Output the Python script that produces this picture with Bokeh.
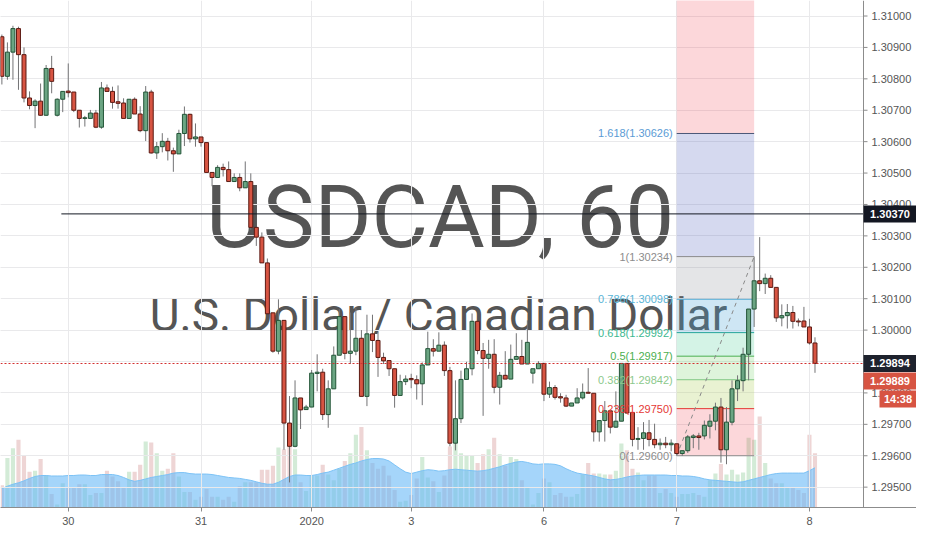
from bokeh.plotting import figure
from bokeh.models import Range1d, FixedTicker, Label
from bokeh.embed import file_html
from bokeh.resources import INLINE
from bokeh.core.properties import value

# ---------------- data (USDCAD, 60 min) ----------------
opens = [1.30934,1.30808,1.30885,1.30960,1.30877,1.30739,1.30715,1.30729,1.30684,1.30833,
         1.30684,1.30735,1.30761,1.30758,1.30700,1.30674,1.30674,1.30691,1.30646,1.30771,
         1.30760,1.30727,1.30723,1.30674,1.30735,1.30688,1.30635,1.30758,1.30564,1.30584,
         1.30601,1.30571,1.30561,1.30626,1.30687,1.30609,1.30615,1.30597,1.30502,1.30486,
         1.30518,1.30511,1.30473,1.30486,1.30453,1.30473,1.30327,1.30296,1.30214,1.30055,
         1.29933,1.30031,1.29704,1.29630,1.29784,1.29747,1.29755,1.29862,1.29866,1.29731,
         1.29813,1.29920,1.30043,1.29926,1.29933,1.29974,1.29789,1.29988,1.29967,1.29913,
         1.29903,1.29877,1.29792,1.29836,1.29846,1.29842,1.29829,1.29889,1.29941,1.29933,
         1.29952,1.29871,1.29640,1.29718,1.29843,1.29877,1.30028,1.29935,1.29910,1.29923,
         1.29818,1.29856,1.29844,1.29907,1.29916,1.29892,1.29863,1.29877,1.29894,1.29796,
         1.29817,1.29788,1.29784,1.29758,1.29768,1.29784,1.29802,1.29799,1.29676,1.29712,
         1.29743,1.29691,1.29710,1.29894,1.29738,1.29652,1.29655,1.29673,1.29652,1.29635,
         1.29640,1.29635,1.29638,1.29607,1.29616,1.29658,1.29663,1.29663,1.29694,1.29710,
         1.29755,1.29619,1.29707,1.29813,1.29839,1.29923,1.30067,1.30157,1.30148,1.30165,
         1.30136,1.30039,1.30046,1.30056,1.30029,1.30029,1.30010,1.29959]
highs = [1.30941,1.30916,1.30969,1.30966,1.30900,1.30760,1.30735,1.30785,1.30844,1.30873,
         1.30738,1.30760,1.30849,1.30758,1.30700,1.30682,1.30701,1.30701,1.30790,1.30782,
         1.30775,1.30779,1.30738,1.30735,1.30741,1.30713,1.30777,1.30765,1.30599,1.30627,
         1.30612,1.30581,1.30638,1.30712,1.30689,1.30658,1.30615,1.30597,1.30502,1.30525,
         1.30530,1.30537,1.30499,1.30499,1.30537,1.30499,1.30327,1.30311,1.30228,1.30055,
         1.30098,1.30031,1.29790,1.29840,1.29784,1.29762,1.29873,1.29923,1.29877,1.29840,
         1.29948,1.30067,1.30043,1.30056,1.30072,1.30000,1.30049,1.30049,1.29995,1.29928,
         1.29903,1.29877,1.29858,1.29856,1.29861,1.29856,1.29897,1.29995,1.29971,1.29993,
         1.29964,1.29883,1.29840,1.29871,1.29899,1.30053,1.30028,1.29959,1.29969,1.29971,
         1.29867,1.29933,1.29954,1.29990,1.29969,1.30031,1.29877,1.29901,1.29894,1.29836,
         1.29825,1.29799,1.29794,1.29768,1.29815,1.29830,1.29879,1.29799,1.29712,1.29774,
         1.29743,1.29805,1.29894,1.29894,1.29738,1.29691,1.29707,1.29714,1.29702,1.29655,
         1.29660,1.29652,1.29638,1.29616,1.29666,1.29669,1.29673,1.29712,1.29732,1.29769,
         1.29784,1.29755,1.29840,1.29856,1.29944,1.30067,1.30234,1.30296,1.30180,1.30175,
         1.30136,1.30082,1.30083,1.30077,1.30037,1.30074,1.30036,1.29977]
lows = [1.30782,1.30797,1.30797,1.30765,1.30725,1.30703,1.30643,1.30682,1.30682,1.30754,
        1.30680,1.30694,1.30741,1.30694,1.30645,1.30648,1.30674,1.30643,1.30641,1.30760,
        1.30705,1.30705,1.30674,1.30674,1.30688,1.30630,1.30602,1.30562,1.30545,1.30566,
        1.30540,1.30504,1.30561,1.30586,1.30597,1.30584,1.30584,1.30502,1.30458,1.30486,
        1.30489,1.30473,1.30473,1.30442,1.30453,1.30319,1.30268,1.30214,1.30052,1.29928,
        1.29923,1.29619,1.29515,1.29627,1.29685,1.29747,1.29755,1.29805,1.29714,1.29689,
        1.29813,1.29920,1.29907,1.29892,1.29920,1.29789,1.29758,1.29930,1.29851,1.29892,
        1.29854,1.29753,1.29792,1.29825,1.29815,1.29779,1.29761,1.29889,1.29916,1.29933,
        1.29854,1.29630,1.29617,1.29704,1.29843,1.29856,1.29923,1.29727,1.29877,1.29799,
        1.29763,1.29844,1.29844,1.29907,1.29892,1.29892,1.29830,1.29877,1.29774,1.29784,
        1.29779,1.29769,1.29755,1.29758,1.29768,1.29779,1.29799,1.29645,1.29645,1.29645,
        1.29671,1.29689,1.29710,1.29735,1.29630,1.29619,1.29619,1.29630,1.29624,1.29619,
        1.29624,1.29614,1.29601,1.29600,1.29609,1.29624,1.29619,1.29652,1.29655,1.29681,
        1.29578,1.29573,1.29697,1.29774,1.29805,1.29840,1.30010,1.30124,1.30115,1.30136,
        1.30026,1.30012,1.30005,1.30005,1.30012,1.30010,1.29954,1.29864]
closes = [1.30808,1.30885,1.30960,1.30877,1.30739,1.30715,1.30729,1.30684,1.30833,1.30792,
          1.30735,1.30760,1.30756,1.30700,1.30674,1.30676,1.30691,1.30646,1.30771,1.30760,
          1.30725,1.30722,1.30674,1.30735,1.30688,1.30635,1.30758,1.30564,1.30584,1.30601,
          1.30571,1.30561,1.30626,1.30687,1.30609,1.30615,1.30597,1.30502,1.30486,1.30518,
          1.30511,1.30473,1.30486,1.30453,1.30473,1.30327,1.30296,1.30214,1.30052,1.29933,
          1.30031,1.29704,1.29630,1.29784,1.29746,1.29755,1.29863,1.29866,1.29731,1.29813,
          1.29920,1.30043,1.29926,1.29933,1.29974,1.29789,1.29988,1.29967,1.29913,1.29902,
          1.29877,1.29792,1.29836,1.29844,1.29842,1.29829,1.29889,1.29941,1.29933,1.29952,
          1.29871,1.29640,1.29718,1.29843,1.29877,1.30028,1.29935,1.29910,1.29923,1.29818,
          1.29856,1.29844,1.29907,1.29916,1.29892,1.29961,1.29877,1.29894,1.29796,1.29817,
          1.29786,1.29784,1.29758,1.29768,1.29784,1.29802,1.29799,1.29676,1.29712,1.29743,
          1.29691,1.29710,1.29894,1.29736,1.29652,1.29655,1.29673,1.29652,1.29635,1.29640,
          1.29635,1.29640,1.29607,1.29616,1.29660,1.29663,1.29658,1.29697,1.29710,1.29755,
          1.29619,1.29707,1.29813,1.29839,1.29923,1.30067,1.30157,1.30148,1.30165,1.30136,
          1.30039,1.30046,1.30056,1.30028,1.30026,1.30010,1.29959,1.29894]
volume = [23,51,61,70,54,37,38,50,33,14, 3,25,20,21,24,24,13,15,15,38,
          32,27,21,37,37,44,68,67,56,38, 40,56,32,16,16,8,11,19,11,11,
          8,11,6,22,26,26,26,39,39,43, 62,60,70,60,26,17,33,33,44,34,
          28,40,48,56,75,83,59,46,40,43, 33,18,6,7,13,30,52,31,27,16,
          33,63,66,56,54,54,46,55,60,72, 55,43,52,50,28,21,3,15,30,26,
          13,15,11,11,14,34,46,35,35,34, 34,38,66,59,40,36,28,33,33,15,
          19,15,11,14,14,15,13,11,28,35, 45,34,39,34,36,72,70,94,46,30,
          25,25,20,20,18,15,75,56]
volume_ma = [19.5,22,24,25.5,27.5,30,32,33,33,32.5, 32.5,32.5,33,33,33.5,33.5,33,33,34,34,
             34,33,31,28.5,27,28,29.5,31,32,33, 34,35.5,36,36,35,34.5,34.5,34.5,34,33,
             32,31,30.5,30,29,28,26.5,25,24,24, 26,29,32,33.5,33.5,33,33,34,35.5,36.5,
             38.5,40.5,42.5,44.5,46,48,49.5,50.5,50.5,50, 48,44,40,36.5,35,36.5,38,39,38.5,37.5,
             38,39,39.5,39,38.5,38,37.5,38,39,40.5, 42,44,45.5,47,47.5,46.5,45,44.5,45,45,
             44.5,43,40,37.5,35.5,34.5,33.5,32.5,31,29.5, 28.5,29,30,31.5,32.5,33,33.5,33.5,33.5,33.5,
             33.5,33,33,32.5,32.5,32,31,29.5,28.5,28, 27.5,27,26.5,26,26.5,28,29.5,31,32.5,34,
             35,35.5,35.5,35.5,35.5,35.5,38,41]

date_tick_bars = [12, 36, 56, 74, 98, 122, 146]
date_tick_labels = ["30", "31", "2020", "3", "6", "7", "8"]
price_ticks = [1.295, 1.296, 1.297, 1.298, 1.299, 1.300, 1.301, 1.302,
               1.303, 1.304, 1.305, 1.306, 1.307, 1.308, 1.309, 1.310]

fib_level_labels = ["0", "0.236", "0.382", "0.5", "0.618", "0.786", "1", "1.618", "2.618"]
fib_prices = [1.29600, 1.29750, 1.29842, 1.29917, 1.29992, 1.30098, 1.30234, 1.30626, 1.31260]
fib_start_bar = 122
fib_end_bar = 136

resistance_price = 1.30370
resistance_start_bar = 10.75
last_price = 1.29894
bid_price = 1.29889
countdown = "14:38"
symbol_title = "USDCAD, 60"
symbol_desc = "U.S. Dollar / Canadian Dollar"

# ---------------- styling ----------------
UP_FILL, DN_FILL = "#6ba583", "#d75442"
UP_LINE, DN_LINE = "#225437", "#5b1a13"
WICK = "#737375"
GRID = "#e9e9eb"
AXIS = "#8c8c8c"
TXT = "#555555"
FONT = "Liberation Sans"

zone_colors = ["#f23645", "#b5d56a", "#5cc84a", "#26c281", "#4aa3d8", "#787b86", "#3f51b5", "#f23645"]
zone_alphas = [0.2, 0.3, 0.2, 0.2, 0.27, 0.2, 0.22, 0.2]
fib_line_colors = ["#8c8c8c", "#e53935", "#81c784", "#4caf50", "#26a69a", "#5aaed6", "#8c8c8c", "#4a5878"]
fib_text_colors = ["#8c8c8c", "#e53935", "#8cc98c", "#4caf50", "#3cb890", "#5ab4d6", "#8c8c8c", "#5b9bd5"]

W, H = 916, 534
FRAME_H = H - 27                 # bottom time scale
PANE_W = 863                     # chart pane; the rest is the price scale
x_start, scale_x = -0.25, 155.77
bar_px = (scale_x - x_start) / PANE_W
x_end = x_start + W * bar_px
y_start, y_end = 1.294352, 1.310494
price_px = (y_end - y_start) / FRAME_H

n = len(opens)
idx = list(range(n))
is_up = [c >= o for o, c in zip(opens, closes)]

p = figure(width=W, height=H, output_backend="svg", toolbar_location=None,
           x_range=Range1d(x_start, x_end), y_range=Range1d(y_start, y_end),
           y_axis_location=None,
           min_border_left=0, min_border_top=0, min_border_right=0, min_border_bottom=27)
p.outline_line_color = None
p.background_fill_color = "white"
p.border_fill_color = "white"
p.xgrid.visible = False

# time axis
p.xaxis.ticker = FixedTicker(ticks=date_tick_bars)
p.xaxis.major_label_overrides = {b: t for b, t in zip(date_tick_bars, date_tick_labels)}
p.xaxis.axis_line_color = AXIS
p.xaxis.major_tick_line_color = AXIS
p.xaxis.minor_tick_line_color = None
p.xaxis.major_tick_in = 0
p.xaxis.major_tick_out = 4
p.xaxis.major_label_text_font = FONT
p.xaxis.major_label_text_font_size = "11px"
p.xaxis.major_label_text_color = TXT
p.xaxis.major_label_standoff = 5

# watermark
p.add_layout(Label(x=77.8 + 8 * bar_px, y=1.30284 + 24 * price_px, text=symbol_title,
                   text_align="center", text_baseline="alphabetic", text_font="Roboto",
                   text_font_size="87px", text_color="#555555", level="underlay"))
p.add_layout(Label(x=77.5 + 8 * bar_px, y=1.300154 + 10 * price_px, text=symbol_desc,
                   text_align="center", text_baseline="alphabetic", text_font="Roboto",
                   text_font_size="46px", text_color="#555555", level="underlay"))

# volume
p.extra_y_ranges = {"vol": Range1d(0, 523)}
p.vbar(x=idx, top=volume, width=0.75, y_range_name="vol", line_color=None,
       fill_color=["#d3ebd7" if u else "#eed5d5" for u in is_up])
p.varea(x=idx, y1=0, y2=volume_ma, y_range_name="vol", fill_color="#69b9f7", fill_alpha=0.6)
p.line(idx, volume_ma, y_range_name="vol", line_color="#7cc2f5", line_width=1)

# grid (drawn above the volume pane)
p.hspan(y=price_ticks, line_color=GRID, line_width=1)
p.vspan(x=date_tick_bars, line_color=GRID, line_width=1)

# fibonacci retracement
p.quad(left=fib_start_bar, right=fib_end_bar, bottom=fib_prices[:-1], top=fib_prices[1:],
       fill_color=zone_colors, fill_alpha=zone_alphas, line_color=None)
p.segment(x0=fib_start_bar, x1=fib_end_bar, y0=fib_prices[:-1], y1=fib_prices[:-1],
          line_color=fib_line_colors, line_width=1)
p.line([fib_start_bar, fib_end_bar], [fib_prices[0], fib_prices[6]],
       line_color="#8a8a8a", line_dash="4 4", line_width=1)

# candles
p.segment(x0=idx, x1=idx, y0=lows, y1=highs, line_color=WICK, line_width=1)
p.vbar(x=idx, bottom=[min(o, c) for o, c in zip(opens, closes)],
       top=[max(o, c) for o, c in zip(opens, closes)], width=0.72,
       fill_color=[UP_FILL if u else DN_FILL for u in is_up],
       line_color=[UP_LINE if u else DN_LINE for u in is_up], line_width=1)

# horizontal lines
p.ray(x=resistance_start_bar, y=resistance_price, length=0, angle=0,
      line_color="#131722", line_width=1)
p.hspan(y=[last_price], line_color="#d32f2f", line_width=1, line_dash="2 2")

# fib labels
p.text(x=[fib_start_bar] * 8, y=fib_prices[:8],
       text=[f"{l}({v:.5f})" for l, v in zip(fib_level_labels[:8], fib_prices[:8])],
       text_align="right", text_baseline="middle", x_offset=-4,
       text_font=value(FONT), text_font_size="11px", text_color=fib_text_colors)

# ---------------- price scale (right) ----------------
p.quad(left=scale_x, right=x_end + 1, bottom=y_start - 1, top=y_end + 1,
       fill_color="white", line_color=None)
p.vspan(x=[scale_x], line_color=AXIS, line_width=1)
p.ray(x=scale_x, y=price_ticks, length=4, length_units="screen", angle=0,
      line_color=AXIS, line_width=1)
p.text(x=scale_x, y=price_ticks, text=[f"{t:.5f}" for t in price_ticks], x_offset=8,
       text_baseline="middle", text_font=value(FONT), text_font_size="11px", text_color=TXT)

def price_box(y, text, bg, width=53):
    cx = scale_x + (W - PANE_W - width / 2) * bar_px
    p.rect(x=cx, y=y, width=width, height=17, width_units="screen", height_units="screen",
           fill_color=bg, line_color=None)
    p.text(x=cx, y=y, text=[text], text_align="center", text_baseline="middle",
           text_font=value(FONT), text_font_size="11px", text_font_style="bold",
           text_color="white")

price_box(resistance_price, f"{resistance_price:.5f}", "#131722")
price_box(last_price, f"{last_price:.5f}", "#1e222d")
price_box(bid_price - 16 * price_px, f"{bid_price:.5f}", "#d75442")
price_box(bid_price - 34 * price_px, countdown, "#d75442", width=37)

open("out.html", "w").write(file_html(p, INLINE))
